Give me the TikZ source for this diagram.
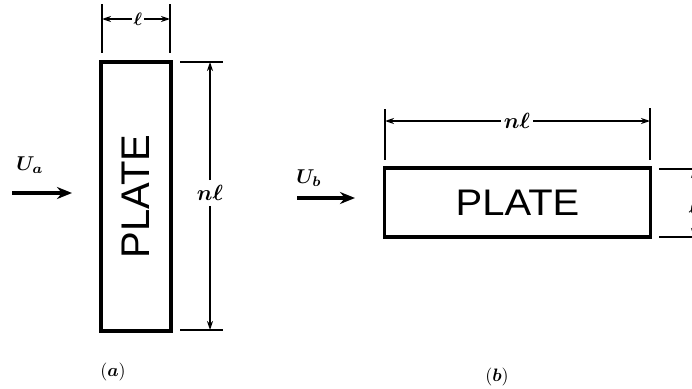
\documentclass[tikz,border=0pt]{standalone}
\usepackage{graphicx}
\usepackage{bm}
\usepackage{fontspec}
\setsansfont{Liberation Sans}
\usetikzlibrary{arrows.meta}
\newcommand\dimlbl[2]{\scalebox{#1}{$\bm{#2}$}}
\begin{document}
\begin{tikzpicture}[x=1pt,y=-1pt,
  plate/.style={draw=black, line width=3.2pt, inner sep=0pt},
  platetext/.style={font=\fontsize{#1}{#1}\selectfont\sffamily},
  ext/.style={line width=1.6pt},
  dim/.style={line width=1.5pt, -{Stealth[length=9pt,width=6pt]}},
  flow/.style={line width=3.6pt, -{Stealth[length=15pt,width=12pt]}},
  lab/.style={inner sep=2pt},
  figcaption/.style={inner sep=0pt}]
\path[use as bounding box, clip] (0,0) rectangle (692,388);
\fill[white] (0,0) rectangle (692,388);

% ---------------- (a) ----------------
\node[plate, rotate=90, minimum width=269pt, minimum height=70pt,
      platetext=40] (pa) at (136,196.5) {PLATE};
% top dimension l
\coordinate (ta1) at (102,4);  \coordinate (ta2) at (102,53);
\coordinate (ta3) at (170,4);  \coordinate (ta4) at (170,53);
\draw[ext] (ta1) -- (ta2);
\draw[ext] (ta3) -- (ta4);
\node[lab] (la) at (138,19) {\dimlbl{1.8}{\ell}};
\draw[dim] (la.west) -- (la.west -| ta1);
\draw[dim] (la.east) -- (la.east -| ta3);
% right dimension nl
\coordinate (ea1) at (180,62);  \coordinate (ea2) at (223,62);
\coordinate (ea3) at (180,330); \coordinate (ea4) at (223,330);
\draw[ext] (ea1) -- (ea2);
\draw[ext] (ea3) -- (ea4);
\node[lab, inner sep=5pt] (nla) at (210,193) {\dimlbl{2.2}{n\ell}};
\draw[dim] (nla.north) -- (nla.north |- ea1);
\draw[dim] (nla.south) -- (nla.south |- ea3);
% flow arrow
\coordinate (fa1) at (12,193); \coordinate (fa2) at (72,193);
\draw[flow] (fa1) -- (fa2);
\node[lab] (ua) at (30,165) {\dimlbl{2.0}{U_a}};
\node[figcaption] (capa) at (113,372) {\scalebox{1.8}{$(\bm{a})$}};

% ---------------- (b) ----------------
\node[plate, minimum width=266pt, minimum height=69pt,
      platetext=37] (pb) at (517.5,202.5) {\scalebox{1.08}[1]{PLATE}};
% top dimension nl
\coordinate (tb1) at (385,109); \coordinate (tb2) at (385,160);
\coordinate (tb3) at (650,108); \coordinate (tb4) at (650,160);
\draw[ext] (tb1) -- (tb2);
\draw[ext] (tb3) -- (tb4);
\node[lab, inner sep=3pt] (nlb) at (517,121) {\dimlbl{2.2}{n\ell}};
\draw[dim] (nlb.west) -- (nlb.west -| tb1);
\draw[dim] (nlb.east) -- (nlb.east -| tb3);
% right dimension l
\coordinate (eb1) at (659,169); \coordinate (eb2) at (700,169);
\coordinate (eb3) at (659,237); \coordinate (eb4) at (700,237);
\draw[ext] (eb1) -- (eb2);
\draw[ext] (eb3) -- (eb4);
\node[lab, inner sep=3pt] (lb) at (694,207) {\dimlbl{2.2}{\ell}};
\draw[dim] (lb.north) -- (lb.north |- eb1);
\draw[dim] (lb.south) -- (lb.south |- eb3);
% flow arrow
\coordinate (fb1) at (297,198); \coordinate (fb2) at (355,198);
\draw[flow] (fb1) -- (fb2);
\node[lab] (ub) at (309,178) {\dimlbl{2.0}{U_b}};
\node[figcaption] (capb) at (497,377) {\scalebox{1.8}{$(\bm{b})$}};
\end{tikzpicture}
\end{document}
